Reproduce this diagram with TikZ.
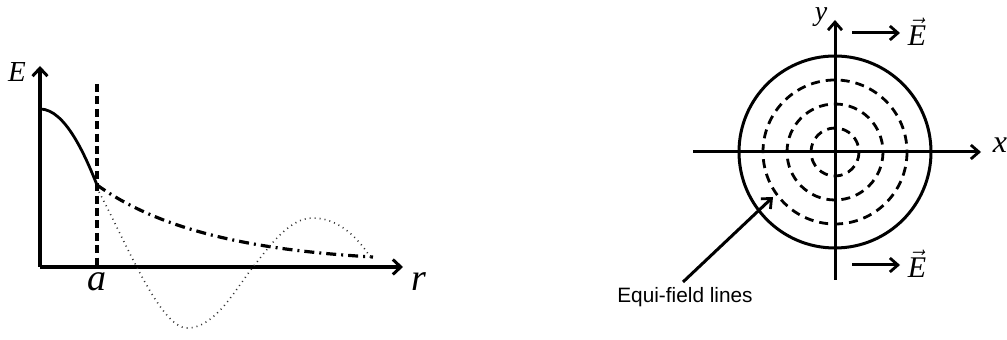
\documentclass[tikz,border=0pt]{standalone}
\usepackage{fontspec}
\setmainfont{Liberation Serif}
\newfontfamily\labelsans{Liberation Sans}
\usetikzlibrary{arrows.meta}
\newcommand{\vecE}{$\vec{\mbox{\itshape E}}$}
\begin{document}
\begin{tikzpicture}[x=0.5pt,y=-0.5pt,
  axis/.style={line width=1.7pt,-{Straight Barb[length=4pt,width=7.5pt,line width=1.5pt]}},
  thin axis/.style={line width=1.5pt,-{Straight Barb[length=4pt,width=7pt,line width=1.4pt]}},
  curve/.style={line width=1.4pt},
  dashcirc/.style={line width=1.4pt,dash pattern=on 4.5pt off 3pt},
  lbl/.style={inner sep=0pt,font=\itshape}]
\useasboundingbox (0,0) rectangle (1007,340);
% ---- left graph ----
\coordinate (O) at (40,267);
\coordinate (Ytip) at (40,66);
\coordinate (Xtip) at (403,267);
\coordinate (A) at (97,185);
\coordinate (Abot) at (97,267);
\coordinate (Atop) at (97,84);
\draw[axis] (O) -- (Ytip);
\draw[axis] (O) -- (Xtip);
\node[lbl,font=\itshape\fontsize{14.5}{14.5}\selectfont] (Elab) at (17,72) {E};
\node[lbl,font=\itshape\fontsize{19}{19}\selectfont] (alab) at (97,282) {a};
\node[lbl,font=\itshape\fontsize{19}{19}\selectfont] (rlab) at (419,282) {r};
\draw[line width=1.6pt,dash pattern=on 4pt off 2.2pt] (Atop) -- (Abot);
\draw[curve] (40,109) .. controls (65,109) and (85,155) .. (A);
\draw[line width=1.6pt,dash pattern=on 5pt off 2.5pt on 1pt off 2.5pt] (A) .. controls (160,230) and (250,250) .. (373,257);
\draw[line width=0.8pt,black!80,dash pattern=on 0.5pt off 2pt]
  (99,192) .. controls (125,240) and (160,328) .. (187,328)
  .. controls (215,328) and (235,290) .. (253,267)
  .. controls (272,243) and (290,218) .. (313,218)
  .. controls (340,218) and (360,240) .. (372,260);
% ---- right graph ----
\coordinate (C) at (835,152);
\coordinate (Cbot) at (835,280);
\coordinate (Ctop) at (835,20);
\coordinate (Cleft) at (693,152);
\coordinate (Cright) at (981,152);
\draw[thin axis] (Cbot) -- (Ctop);
\draw[thin axis] (Cleft) -- (Cright);
\node[lbl,font=\itshape\fontsize{16}{16}\selectfont] (xlab) at (1000,145) {x};
\node[lbl,font=\itshape\fontsize{14}{14}\selectfont] (ylab) at (821,17) {y};
\draw[line width=1.5pt] (C) circle[radius=96];
\draw[dashcirc] (C) circle[radius=72];
\draw[dashcirc] (C) circle[radius=48];
\draw[dashcirc] (C) circle[radius=24];
\node[lbl,font=\fontsize{15}{15}\selectfont,anchor=base] (E1) at (917,46) {\vecE};
\node[lbl,font=\fontsize{15}{15}\selectfont,anchor=base] (E2) at (917,278) {\vecE};
\coordinate (a1) at (852,33);
\coordinate (a2) at (852,265);
\coordinate (a1e) at (900,33);
\coordinate (a2e) at (900,265);
\draw[thin axis] (a1) -- (a1e);
\draw[thin axis] (a2) -- (a2e);
\node[inner sep=0pt,font=\labelsans\fontsize{10.4}{10.4}\selectfont] (eq) at (685,297) {Equi-field lines};
\coordinate (ptrs) at (683,282);
\coordinate (ptr) at (773,197);
\draw[thin axis] (ptrs) -- (ptr);
\end{tikzpicture}
\end{document}
